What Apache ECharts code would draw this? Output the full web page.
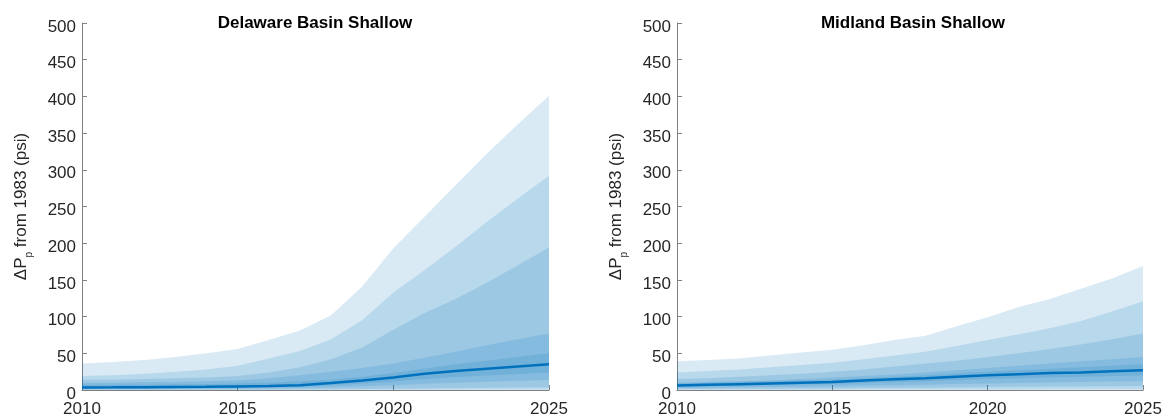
<!DOCTYPE html>
<html>
<head>
<meta charset="utf-8">
<script src="https://cdn.jsdelivr.net/npm/echarts@6/dist/echarts.min.js"></script>
<style>
  html, body { margin: 0; padding: 0; background: #fff; }
  #chart { width: 1173px; height: 418px; }
</style>
</head>
<body>
<div id="chart"></div>
<script>
const years = ['2010', '2011', '2012', '2013', '2014', '2015', '2016', '2017', '2018', '2019', '2020', '2021', '2022', '2023', '2024', '2025'];

// Delaware Basin Shallow - band edges, outermost band first
const delHi1 = [36, 38, 41, 45, 50, 56, 68, 81, 102, 141, 193, 236, 279, 322, 362, 401];
const delHi2 = [19, 20, 22, 25, 28, 33, 43, 53, 69, 95, 133, 163, 195, 229, 261, 292];
const delHi3 = [14, 14, 15, 16, 17, 19, 24, 31, 42, 58, 82, 105, 124, 146, 170, 194];
const delHi4 = [10, 10, 11, 11, 12, 13, 16, 20, 25, 30, 36, 44, 52, 61, 69, 77];
const delHi5 = [7, 7, 7, 8, 8, 9, 10, 12, 14, 18, 23, 29, 35, 40, 45, 50];
const delMedian = [3.5, 3.6, 3.8, 4, 4.3, 4.8, 5.3, 6.5, 9.5, 13, 17, 22, 26, 29, 32, 35];
const delLo5 = [2.4, 2.5, 2.6, 2.7, 2.9, 3.2, 3.7, 4.7, 6.4, 8.8, 11.5, 15, 17.7, 19.7, 21.8, 23.8];
const delLo4 = [1.4, 1.4, 1.5, 1.6, 1.7, 1.9, 2.1, 2.7, 3.7, 5, 6.6, 8.6, 10, 11.3, 12.5, 13.7];
const delLo3 = [0.4, 0.4, 0.4, 0.4, 0.5, 0.5, 0.6, 0.7, 1, 1.3, 1.7, 2.2, 2.6, 3, 3.3, 3.6];
const delLo2 = [0.1, 0.1, 0.1, 0.1, 0.1, 0.1, 0.1, 0.2, 0.2, 0.3, 0.4, 0.5, 0.5, 0.6, 0.7, 0.7];
const delLo1 = [0, 0, 0, 0, 0, 0, 0, 0, 0, 0, 0, 0, 0, 0, 0, 0];

// Midland Basin Shallow
const midHi1 = [39, 41, 43, 47, 51, 55, 61, 68, 74, 87, 99, 113, 124, 138, 152, 169];
const midHi2 = [24, 26, 28, 31, 34, 37, 42, 47, 52, 60, 68, 76, 84, 94, 107, 121];
const midHi3 = [15, 16, 18, 20, 22, 25, 28, 32, 36, 40, 45, 50, 56, 62, 69, 77];
const midHi4 = [10, 11, 12, 13, 15, 17, 19, 21, 24, 27, 30, 33, 36, 39, 42, 45];
const midHi5 = [9, 10, 11, 12, 13, 14, 16, 18, 20, 22.5, 25, 27, 29, 31, 33, 35];
const midMedian = [6, 7, 8, 9, 10, 11, 13, 14.5, 16, 18, 20, 21.5, 23, 24, 25.5, 27];
const midLo5 = [4.5, 5.2, 6, 6.7, 7.5, 8.2, 9.7, 10.8, 12, 13.5, 15, 16, 17, 18, 19, 20];
const midLo4 = [2.7, 3.1, 3.6, 4, 4.5, 5, 5.8, 6.5, 7.2, 8.1, 9, 9.7, 10.4, 10.8, 11.5, 12];
const midLo3 = [1.2, 1.4, 1.6, 1.8, 2, 2.2, 2.6, 2.9, 3.2, 3.6, 4, 4.3, 4.6, 4.8, 5, 5.4];
const midLo2 = [0.3, 0.3, 0.4, 0.4, 0.5, 0.5, 0.6, 0.6, 0.7, 0.7, 0.8, 0.8, 0.9, 0.9, 1, 1];
const midLo1 = [0, 0, 0, 0, 0, 0, 0, 0, 0, 0, 0, 0, 0, 0, 0, 0];

const titles = ['Delaware Basin Shallow', 'Midland Basin Shallow'];
const yTicks = [0, 500, 50];   // min, max, step
const yearStep = 5;

const font = '"Liberation Sans", Arial, Helvetica, sans-serif';
const blue = '#0072bd';
const bandFill = 'rgba(0,114,189,0.15)';
const axisGrey = '#808080';
const textCol = '#262626';

const chart = echarts.init(document.getElementById('chart'));

// one shaded band = transparent base + filled difference in its own stack
function band(lo, hi, gi, name) {
  return [
    {
      type: 'line', xAxisIndex: gi, yAxisIndex: gi, stack: name,
      data: lo,
      symbol: 'none', lineStyle: { width: 0, opacity: 0 }, silent: true
    },
    {
      type: 'line', xAxisIndex: gi, yAxisIndex: gi, stack: name,
      data: hi.map((v, i) => v - lo[i]),
      symbol: 'none', lineStyle: { width: 0, opacity: 0 }, silent: true,
      areaStyle: { color: bandFill, opacity: 1 }
    }
  ];
}

function medianLine(vals, gi) {
  return {
    type: 'line', xAxisIndex: gi, yAxisIndex: gi,
    data: vals,
    symbol: 'none', lineStyle: { color: blue, width: 2.5 }, z: 5
  };
}

const grids = [
  { left: 82, right: 624, top: 23, bottom: 28 },
  { left: 677, right: 30, top: 23, bottom: 28 }
];

const xAxes = grids.map((g, i) => ({
  type: 'category', gridIndex: i, data: years, boundaryGap: false,
  axisLine: { lineStyle: { color: axisGrey, width: 1 } },
  axisTick: { inside: true, length: 5, interval: yearStep - 1, lineStyle: { color: axisGrey } },
  axisLabel: { color: textCol, fontSize: 17, fontFamily: font, margin: 11, interval: yearStep - 1 },
  splitLine: { show: false }
}));

const yAxes = grids.map((g, i) => ({
  type: 'value', gridIndex: i,
  min: yTicks[0], max: yTicks[1], interval: yTicks[2],
  axisLine: { show: true, lineStyle: { color: axisGrey, width: 1 } },
  axisTick: { show: true, inside: true, length: 5, lineStyle: { color: axisGrey } },
  axisLabel: {
    margin: 6,
    formatter: '{v|{value}}',
    rich: { v: { color: textCol, fontSize: 17, fontFamily: font, padding: [8, 0, 0, 0] } }
  },
  splitLine: { show: false },
  name: '{t|ΔP}{s|p}{t| from 1983 (psi)}',
  nameLocation: 'middle',
  nameGap: 48,
  nameRotate: 90,
  nameTextStyle: {
    rich: {
      t: { fontSize: 17, fontFamily: font, color: textCol, lineHeight: 26 },
      s: { fontSize: 10, fontFamily: font, color: textCol, lineHeight: 10, verticalAlign: 'bottom' }
    }
  }
}));

const series = [
  ...band(delLo1, delHi1, 0, 'd1'),
  ...band(delLo2, delHi2, 0, 'd2'),
  ...band(delLo3, delHi3, 0, 'd3'),
  ...band(delLo4, delHi4, 0, 'd4'),
  ...band(delLo5, delHi5, 0, 'd5'),
  medianLine(delMedian, 0),
  ...band(midLo1, midHi1, 1, 'm1'),
  ...band(midLo2, midHi2, 1, 'm2'),
  ...band(midLo3, midHi3, 1, 'm3'),
  ...band(midLo4, midHi4, 1, 'm4'),
  ...band(midLo5, midHi5, 1, 'm5'),
  medianLine(midMedian, 1)
];

chart.setOption({
  animation: false,
  backgroundColor: '#fff',
  title: [
    { text: titles[0], left: 310, top: 10, textAlign: 'center',
      textStyle: { fontSize: 17, fontWeight: 'bold', color: '#000', fontFamily: font } },
    { text: titles[1], left: 908, top: 10, textAlign: 'center',
      textStyle: { fontSize: 17, fontWeight: 'bold', color: '#000', fontFamily: font } }
  ],
  grid: grids,
  xAxis: xAxes,
  yAxis: yAxes,
  series: series
});
</script>
</body>
</html>
